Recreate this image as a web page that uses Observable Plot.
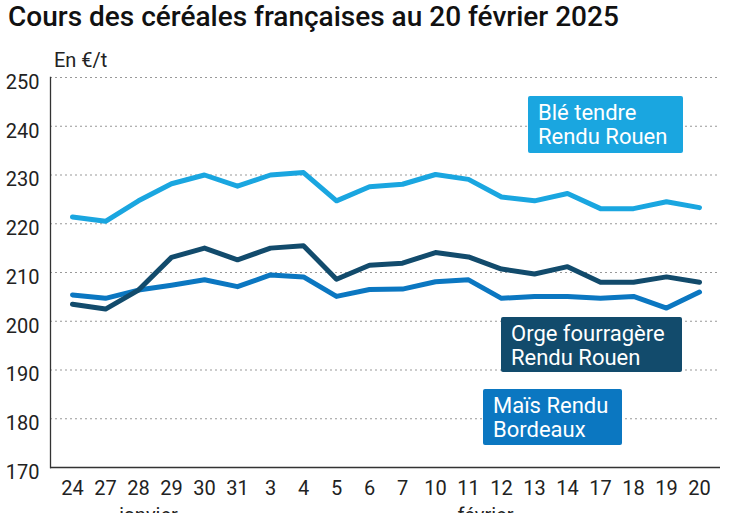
<!DOCTYPE html>
<html>
<head>
<meta charset="utf-8">
<script src="https://cdn.jsdelivr.net/npm/d3@7"></script>
<script src="https://cdn.jsdelivr.net/npm/@observablehq/plot@0.6"></script>
<style>
  html, body { margin: 0; padding: 0; background: #fff; }
  body { width: 747px; height: 513px; overflow: hidden; position: relative; font-family: Roboto, sans-serif; }
  #title { position: absolute; left: 8px; top: 3px; font-size: 28px; line-height: 28px; font-weight: 500; color: #111; white-space: nowrap; }
  #unit { position: absolute; left: 54px; top: 50px; font-size: 20px; line-height: 20px; color: #222; white-space: nowrap; }
  #chart { position: absolute; left: 0; top: 40px; }
  .lbl { position: absolute; box-sizing: border-box; color: #fff; font-size: 22px; line-height: 24px; padding: 5px 10px 0 10px; border-radius: 2px; white-space: nowrap; }
</style>
</head>
<body>
<div id="title">Cours des céréales françaises au 20 février 2025</div>
<div id="unit">En €/t</div>
<div id="chart"></div>
<script>
const dates = ["24","27","28","29","30","31","3","4","5","6","7","10","11","12","13","14","17","18","19","20"];
const ble  = [221.4,220.5,224.7,228.2,230.0,227.7,230.0,230.5,224.7,227.6,228.1,230.1,229.1,225.5,224.7,226.2,223.1,223.1,224.5,223.3];
const orge = [203.5,202.5,206.4,213.1,215.0,212.6,215.0,215.5,208.6,211.5,211.9,214.1,213.2,210.7,209.7,211.2,208.0,208.0,209.1,208.0];
const mais = [205.4,204.7,206.4,207.4,208.5,207.1,209.5,209.1,205.1,206.5,206.6,208.1,208.5,204.7,205.1,205.1,204.7,205.1,202.7,206.0];
const yTicks = [170,180,190,200,210,220,230,240,250];
const months = ["janvier","février"];
const monthAt = ["28","11"];

const seriesNames = ["Blé tendre\nRendu Rouen","Orge fourragère\nRendu Rouen","Maïs Rendu\nBordeaux"];
const seriesColors = ["#1aa6e0","#124b6c","#0b77c1"];

const rows = [];
[ble, mais, orge].forEach((arr, k) => {
  const idx = [0,2,1][k];
  arr.forEach((v, i) => rows.push({date: dates[i], value: v, serie: seriesNames[idx], color: seriesColors[idx]}));
});

const chart = Plot.plot({
  width: 747,
  height: 490,
  marginLeft: 50,
  marginRight: 27,
  marginTop: 37,
  marginBottom: 63,
  style: {fontFamily: "Roboto, sans-serif", fontSize: "20px", color: "#222", background: "transparent", overflow: "visible"},
  x: {type: "point", domain: dates, padding: 0.5, label: null},
  y: {domain: [170, 250], label: null},
  marks: [
    Plot.gridY(yTicks.filter(d => d > 170), {stroke: "#999", strokeOpacity: 1, strokeDasharray: "2,3", strokeWidth: 1.2}),
    Plot.axisY(yTicks, {tickSize: 0, tickPadding: 11, dy: 5, label: null}),
    Plot.axisX({tickSize: 0, tickPadding: 13, label: null}),
    Plot.ruleY([170], {stroke: "#333", strokeWidth: 1.3}),
    Plot.frame({anchor: "left", stroke: "#333", strokeWidth: 1.3}),
    Plot.line(rows, {x: "date", y: "value", z: "serie", stroke: "color", strokeWidth: 5, strokeLinejoin: "round", strokeLinecap: "round"}),
    Plot.text([months[0]], {x: () => monthAt[0], text: d => d, frameAnchor: "bottom", dy: 54, dx: 10, fill: "#222"}),
    Plot.text([months[1]], {x: () => monthAt[1], text: d => d, frameAnchor: "bottom", dy: 54, dx: 17, fill: "#222"})
  ]
});
document.getElementById("chart").appendChild(chart);

// annotation labels, positioned through the chart's scales
const labelAnchors = [
  {cat: "13", value: 246.2, dx: -6, w: 155, h: 57},
  {cat: "12", value: 200.7, dx: 0,  w: 181, h: 55},
  {cat: "11", value: 185.9, dx: 15, w: 139, h: 56}
];
const xs = chart.scale("x"), ys = chart.scale("y");
labelAnchors.forEach((a, i) => {
  const div = document.createElement("div");
  div.className = "lbl";
  div.style.background = seriesColors[i];
  div.style.left = (xs.apply(a.cat) + a.dx) + "px";
  div.style.top = (40 + ys.apply(a.value)) + "px";
  div.style.width = a.w + "px";
  div.style.height = a.h + "px";
  div.innerHTML = seriesNames[i].split("\n").join("<br>");
  document.body.appendChild(div);
});
</script>
</body>
</html>
